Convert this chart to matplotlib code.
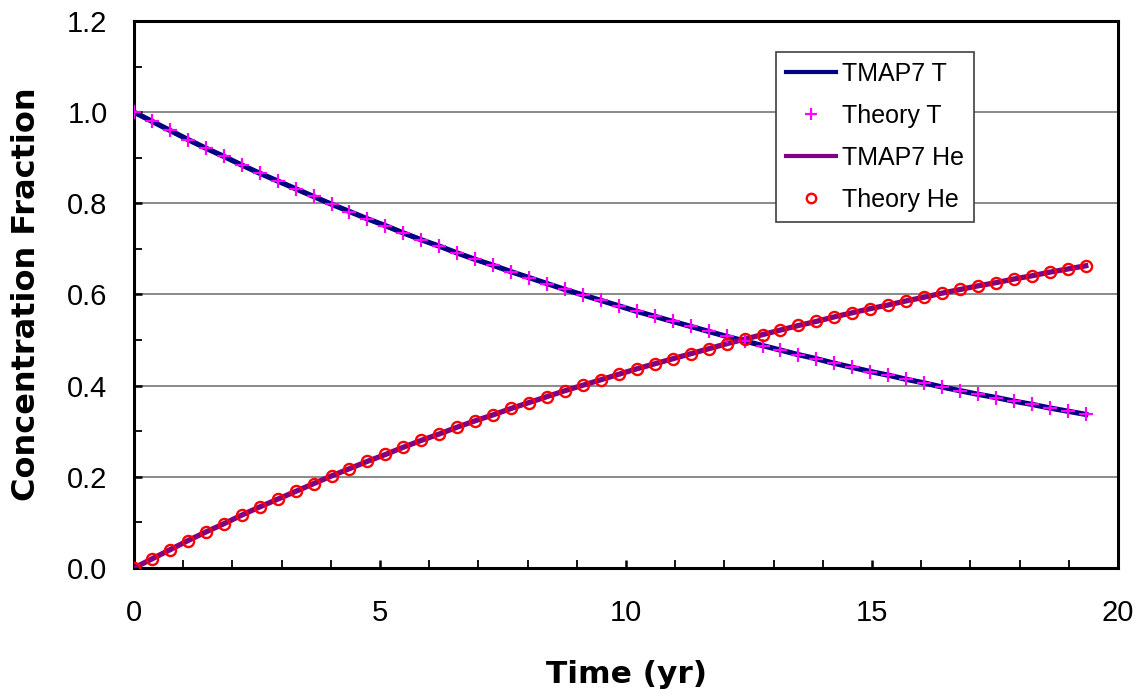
import matplotlib
matplotlib.use("Agg")
import matplotlib.pyplot as plt
from matplotlib.ticker import MultipleLocator, FuncFormatter

# Data
time_yr = [0.000, 0.365, 0.730, 1.095, 1.460, 1.825, 2.190, 2.555, 2.920, 3.285,
           3.650, 4.015, 4.380, 4.745, 5.110, 5.475, 5.840, 6.205, 6.570, 6.935,
           7.300, 7.665, 8.030, 8.395, 8.760, 9.125, 9.490, 9.855, 10.220, 10.585,
           10.950, 11.315, 11.680, 12.045, 12.410, 12.775, 13.140, 13.505, 13.870, 14.235,
           14.600, 14.965, 15.330, 15.695, 16.060, 16.425, 16.790, 17.155, 17.520, 17.885,
           18.250, 18.615, 18.980, 19.345]

theory_T = [1.000, 0.980, 0.960, 0.940, 0.921, 0.903, 0.884, 0.866, 0.849, 0.832,
            0.815, 0.798, 0.782, 0.766, 0.751, 0.735, 0.720, 0.706, 0.691, 0.677,
            0.664, 0.650, 0.637, 0.624, 0.611, 0.599, 0.587, 0.575, 0.563, 0.552,
            0.541, 0.530, 0.519, 0.508, 0.498, 0.488, 0.478, 0.468, 0.459, 0.449,
            0.440, 0.431, 0.423, 0.414, 0.406, 0.397, 0.389, 0.381, 0.374, 0.366,
            0.359, 0.351, 0.344, 0.337]

theory_He = [0.000, 0.020, 0.040, 0.060, 0.079, 0.097, 0.116, 0.134, 0.151, 0.168,
             0.185, 0.202, 0.218, 0.234, 0.249, 0.265, 0.280, 0.294, 0.309, 0.323,
             0.336, 0.350, 0.363, 0.376, 0.389, 0.401, 0.413, 0.425, 0.437, 0.448,
             0.459, 0.470, 0.481, 0.492, 0.502, 0.512, 0.522, 0.532, 0.541, 0.551,
             0.560, 0.569, 0.577, 0.586, 0.594, 0.603, 0.611, 0.619, 0.626, 0.634,
             0.641, 0.649, 0.656, 0.663]

tmap7_T = theory_T
tmap7_He = theory_He

plt.rcParams['font.family'] = ['Liberation Sans', 'DejaVu Sans']

fig = plt.figure(figsize=(11.43, 6.96), dpi=100)
ax = fig.add_axes([134 / 1143, 128 / 696, (1118 - 134) / 1143, (568 - 21) / 696])

ax.plot(time_yr, tmap7_T, color='#000080', lw=3.8, label='TMAP7 T', zorder=3)
ax.plot(time_yr, theory_T, ls='none', marker='+', ms=9.5, mew=1.6,
        color='#FF00FF', label='Theory T', zorder=4)
ax.plot(time_yr, tmap7_He, color='#800080', lw=3.8, label='TMAP7 He', zorder=3)
ax.plot(time_yr, theory_He, ls='none', marker='o', ms=8, mew=1.7,
        mfc='none', mec='#FF0000', label='Theory He', zorder=4)

ax.set_xlim(0, 20)
ax.set_ylim(0, 1.2)
ax.xaxis.set_major_locator(MultipleLocator(5))
ax.xaxis.set_minor_locator(MultipleLocator(1))
ax.yaxis.set_major_locator(MultipleLocator(0.2))
ax.yaxis.set_minor_locator(MultipleLocator(0.1))
ax.yaxis.set_major_formatter(FuncFormatter(lambda v, p: f"{v:.1f}"))

ax.grid(axis='y', which='major', color='#808080', lw=1.3, zorder=0)
ax.tick_params(which='both', direction='in', length=5.5, width=1.3, labelsize=21)
ax.tick_params(which='major', width=1.8)
ax.tick_params(axis='x', which='major', pad=22)
ax.tick_params(axis='y', which='major', pad=19)
for s in ax.spines.values():
    s.set_linewidth(2.2)
    s.set_color('black')

ax.set_xlabel('Time (yr)', fontsize=22.5, fontweight='bold', family='DejaVu Sans',
              labelpad=24)
ax.set_ylabel('Concentration Fraction', fontsize=23, fontweight='bold',
              family='DejaVu Sans', labelpad=18)

leg = ax.legend(loc='upper left', bbox_to_anchor=(776 / 1143, 1 - 52 / 696),
                bbox_transform=fig.transFigure, fontsize=18, fancybox=False,
                framealpha=1, edgecolor='#404040', handlelength=2.0,
                labelspacing=0.72, borderpad=0.4, handletextpad=0.25,
                borderaxespad=0, markerscale=0.85)
leg.get_frame().set_linewidth(1.2)
for ln in leg.get_lines():
    if ln.get_linestyle() not in ('None', 'none', ''):
        ln.set_linewidth(3)
leg.set_zorder(10)

fig.savefig('out.png', dpi=100)
